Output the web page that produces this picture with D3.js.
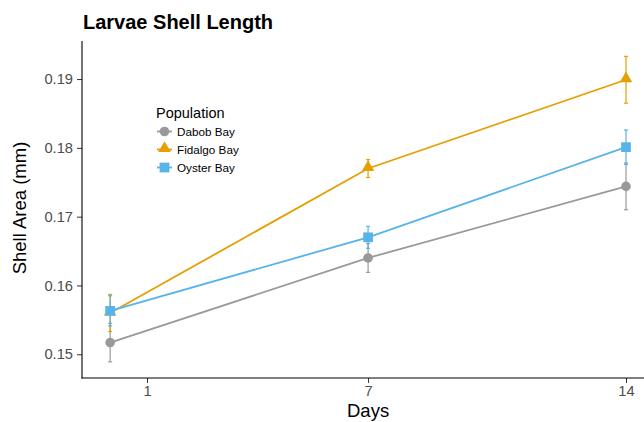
<!DOCTYPE html>
<html><head><meta charset="utf-8">
<script src="https://cdn.jsdelivr.net/npm/d3@7"></script>
<style>body{margin:0;background:#fff;} text{font-family:"Liberation Sans",Arial,Helvetica,sans-serif;}</style>
</head><body>
<svg id="c" width="644" height="422"></svg>
<script>
const populations = ["Dabob Bay", "Fidalgo Bay", "Oyster Bay"];
const colors = ["#999999", "#E69F00", "#56B4E9"];
const shapes = ["circle", "triangle", "square"];
const days = [0, 7, 14];
const dabobMean = [0.1517, 0.1640, 0.1744];
const dabobSE = [0.0028, 0.0021, 0.0034];
const fidalgoMean = [0.1560, 0.1770, 0.1899];
const fidalgoSE = [0.0027, 0.0013, 0.0034];
const oysterMean = [0.1563, 0.1670, 0.1801];
const oysterSE = [0.0022, 0.0016, 0.0025];
const xTicks = [1, 7, 14];
const yTicks = [0.15, 0.16, 0.17, 0.18, 0.19];

const means = [dabobMean, fidalgoMean, oysterMean];
const ses = [dabobSE, fidalgoSE, oysterSE];

const svg = d3.select("#c");
const L = 82, T = 41, B = 378;
const x = d3.scaleLinear().domain([1, 14]).range([147, 626]);
const y = d3.scaleLinear().domain([0.14655, 0.19553]).range([B, T]);

// axes
const yAx = svg.append("g").attr("transform", `translate(${L},0)`)
  .call(d3.axisLeft(y).tickValues(yTicks).tickFormat(d3.format(".2f")).tickSize(5).tickPadding(4));
const xAx = svg.append("g").attr("transform", `translate(0,${B})`)
  .call(d3.axisBottom(x).tickValues(xTicks).tickSize(5).tickPadding(3));
[yAx, xAx].forEach(g => {
  g.select(".domain").remove();
  g.selectAll(".tick line").attr("stroke", "#333").attr("stroke-width", 1);
  g.selectAll(".tick text").attr("fill", "#4D4D4D").style("font-size", "14.7px")
    .style("font-family", "'Liberation Sans',Arial,sans-serif");
});
svg.append("line").attr("x1", L).attr("x2", L).attr("y1", T).attr("y2", B + 0.5).attr("stroke", "#000").attr("stroke-width", 1.1);
svg.append("line").attr("x1", L - 0.5).attr("x2", 644).attr("y1", B).attr("y2", B).attr("stroke", "#000").attr("stroke-width", 1.1);

function sym(type, size) {
  const t = type === "circle" ? d3.symbolCircle : type === "triangle" ? d3.symbolTriangle : d3.symbolSquare;
  return d3.symbol().type(t).size(size)();
}
const symSize = {circle: 72, triangle: 68, square: 95};

populations.forEach((p, i) => {
  const g = svg.append("g");
  const pts = days.map((d, j) => ({d, m: means[i][j], s: ses[i][j]}));
  // error bars
  pts.forEach(o => {
    const xx = x(o.d);
    g.append("line").attr("x1", xx).attr("x2", xx).attr("y1", y(o.m - o.s)).attr("y2", y(o.m + o.s))
      .attr("stroke", colors[i]).attr("stroke-width", 1.2);
    [o.m - o.s, o.m + o.s].forEach(v => {
      g.append("line").attr("x1", xx - 2).attr("x2", xx + 2).attr("y1", y(v)).attr("y2", y(v))
        .attr("stroke", colors[i]).attr("stroke-width", 1.2);
    });
  });
  g.append("path").datum(pts)
    .attr("d", d3.line().x(o => x(o.d)).y(o => y(o.m)))
    .attr("fill", "none").attr("stroke", colors[i]).attr("stroke-width", 1.8);
  g.selectAll(".pt").data(pts).enter().append("path")
    .attr("transform", o => `translate(${x(o.d)},${y(o.m) + (shapes[i] === "triangle" ? -1 : 0)})`)
    .attr("d", sym(shapes[i], symSize[shapes[i]])).attr("fill", colors[i]);
});

// legend
const lg = svg.append("g");
lg.append("text").attr("x", 156).attr("y", 118).text("Population").style("font-size", "14.5px").attr("fill", "#000");
populations.forEach((p, i) => {
  const cy = 131.5 + i * 18;
  lg.append("line").attr("x1", 157).attr("x2", 172).attr("y1", cy).attr("y2", cy).attr("stroke", colors[i]).attr("stroke-width", 1.8);
  lg.append("path").attr("transform", `translate(164.5,${cy + (shapes[i] === "triangle" ? -1 : 0)})`)
    .attr("d", sym(shapes[i], symSize[shapes[i]])).attr("fill", colors[i]);
  lg.append("text").attr("x", 177).attr("y", cy + 4.2).text(p).style("font-size", "11.7px").attr("fill", "#000");
});

// titles
svg.append("text").attr("x", 83).attr("y", 29).text("Larvae Shell Length")
  .style("font-size", "20px").style("font-weight", "bold").attr("fill", "#000");
svg.append("text").attr("x", x(7)).attr("y", 416.5).attr("text-anchor", "middle").text("Days")
  .style("font-size", "18.5px").attr("fill", "#000");
svg.append("text").attr("transform", "translate(26,208) rotate(-90)").attr("text-anchor", "middle")
  .text("Shell Area (mm)").style("font-size", "18.5px").attr("fill", "#000");
</script>
</body></html>
